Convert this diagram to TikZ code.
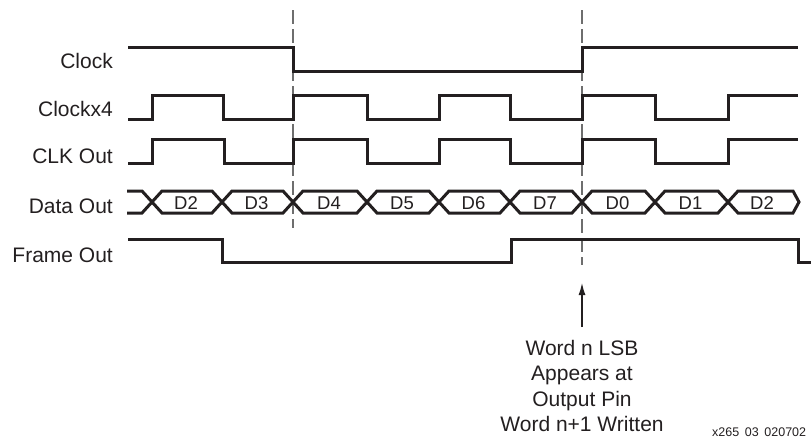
\documentclass[tikz,border=0pt]{standalone}
\usepackage{fontspec}
\setmainfont{Liberation Sans}
\usetikzlibrary{arrows.meta}
\definecolor{ink}{HTML}{231F20}
\definecolor{guide}{HTML}{6E6E6E}
\tikzset{
  sig/.style={draw=ink, line width=3pt, line join=miter, line cap=butt},
  guideline/.style={draw=guide, line width=1.3pt, dash pattern=on 14pt off 5pt},
  lbl/.style={anchor=base east, inner sep=0pt, font=\fontsize{21}{25}\selectfont, text=ink},
  dlbl/.style={anchor=base, inner sep=0pt, font=\fontsize{18.5}{20}\selectfont, text=ink},
  note/.style={align=center, inner sep=0pt, font=\fontsize{21}{25.3}\selectfont, text=ink},
}
\begin{document}
\begin{tikzpicture}[x=1pt, y=-1pt]
\useasboundingbox (0,0) rectangle (811,437);
% guide lines
\draw[guideline] (293,10) -- (293,228);
\draw[guideline] (582,10) -- (582,265);
% labels
\node[lbl] (lclock) at (113,68) {Clock};
\node[lbl] (lclk4) at (113,116) {Clockx4};
\node[lbl] (lclkout) at (113,163) {CLK Out};
\node[lbl] (ldata) at (113,213) {Data Out};
\node[lbl] (lframe) at (113,262) {Frame Out};
% Clock
\draw[sig] (128,47) -- (293,47) -- (293,71) -- (582,71) -- (582,47) -- (798,47);
% Clockx4
\draw[sig] (128,119) -- (152,119) -- (152,95) -- (223,95) -- (223,119) -- (293,119) -- (293,95)
  -- (367,95) -- (367,119) -- (439,119) -- (439,95) -- (510,95) -- (510,119) -- (582,119)
  -- (582,95) -- (655,95) -- (655,119) -- (728,119) -- (728,95) -- (798,95);
% CLK Out
\draw[sig] (128,163) -- (152,163) -- (152,139) -- (224,139) -- (224,163) -- (293,163) -- (293,139)
  -- (367,139) -- (367,163) -- (439,163) -- (439,139) -- (510,139) -- (510,163) -- (582,163)
  -- (582,139) -- (655,139) -- (655,163) -- (728,163) -- (728,139) -- (798,139);
% Data Out
\draw[sig] (127,191) -- (142,191) -- (152,202) -- (142,213) -- (127,213);
\foreach \a/\b/\t in {152/222/D2, 222/293/D3, 293/367/D4, 367/439/D5, 439/510/D6, 510/582/D7, 582/655/D0, 655/728/D1}{
  \draw[sig] (\a,202) -- (\a+10,191) -- (\b-10,191) -- (\b,202) -- (\b-10,213) -- (\a+10,213) -- cycle;
  \node[dlbl] at ({(\a+\b)/2-1},209) {\t};
}
\draw[sig] (728,202) -- (738,191) -- (793,191) -- (799,202) -- (793,213) -- (738,213) -- cycle;
\node[dlbl] (dlast) at (762,209) {D2};
% Frame Out
\draw[sig] (128,239) -- (222,239) -- (222,262) -- (511,262) -- (511,239) -- (798,239) -- (798,262) -- (811,262);
% annotation
\coordinate (arrowfrom) at (582,327);
\coordinate (arrowto) at (582,283);
\draw[draw=ink, line width=1.2pt, -{Latex[length=12pt,width=7pt]}] (arrowfrom) -- (arrowto);
\node[note, anchor=north] (word) at (582,340) {Word n LSB\\Appears at\\Output Pin\\Word n+1 Written};
\node[anchor=base west, inner sep=0pt, font=\fontsize{12.5}{14}\selectfont, text=ink] (fig) at (712,436) {x265\hspace{0.45em}03\hspace{0.45em}020702};
\end{tikzpicture}
\end{document}
